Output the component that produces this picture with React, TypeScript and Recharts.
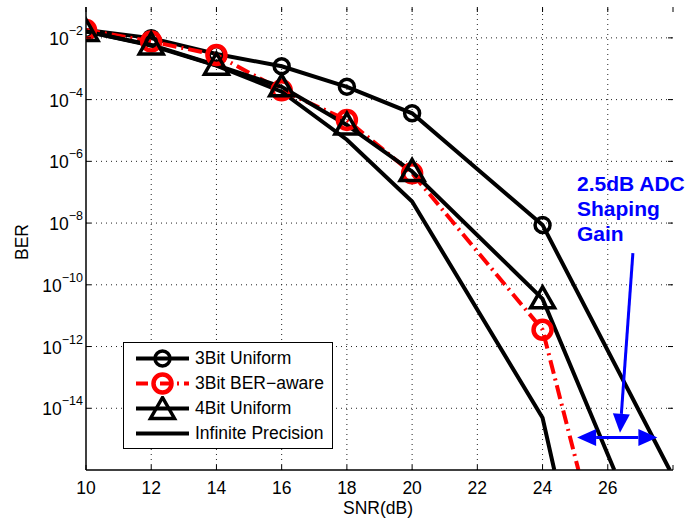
import { LineChart, Line, XAxis, YAxis, ReferenceLine } from "recharts";

const FONT = "'Liberation Sans', Arial, Helvetica, sans-serif";

// SNR points that carry markers
const snr = [10, 12, 14, 16, 18, 20, 24];

// BER (log scale)
const berUniform3 = [1.8e-2, 9.8e-3, 3.0e-3, 1.2e-3, 2.6e-4, 3.6e-5, 8.7e-9];
const berAware3 = [1.8e-2, 7.6e-3, 2.8e-3, 2.0e-4, 2.2e-5, 4.1e-7, 3.5e-12];
const berUniform4 = [1.6e-2, 5.9e-3, 1.3e-3, 2.6e-4, 1.5e-5, 4.7e-7, 3.5e-11];
const berInfinite = [1.6e-2, 5.6e-3, 1.26e-3, 1.8e-4, 5.0e-6, 5.0e-8, 4.9e-15];

// where each curve runs out through the bottom of the plot (BER 1e-16)
const floorBer = 1e-16;
const floorUniform3 = 27.9;
const floorAware3 = 25.1;
const floorUniform4 = 26.2;
const floorInfinite = 24.36;

const xTicks = [10, 12, 14, 16, 18, 20, 22, 24, 26, 28];
const yTicks = [1e-16, 1e-14, 1e-12, 1e-10, 1e-8, 1e-6, 1e-4, 1e-2];
const xGrid = [12, 14, 16, 18, 20, 22, 24, 26];
const yGrid = [1e-14, 1e-12, 1e-10, 1e-8, 1e-6, 1e-4, 1e-2];

const toSeries = (ber: number[], floorX: number) => [
  ...snr.map((x, i) => ({ x, y: ber[i] })),
  { x: floorX, y: floorBer, end: true },
];

const uniform3 = toSeries(berUniform3, floorUniform3);
const aware3 = toSeries(berAware3, floorAware3);
const uniform4 = toSeries(berUniform4, floorUniform4);
const infinite = toSeries(berInfinite, floorInfinite);

const circleDot = (color: string, r: number, sw: number) => (p: any) => {
  if (p.payload?.end) return <g key={`c-${p.index}`} />;
  return <circle key={`c-${p.index}`} cx={p.cx} cy={p.cy} r={r} fill="none" stroke={color} strokeWidth={sw} />;
};

const triPoints = (cx: number, cy: number) =>
  `${cx},${cy - 12} ${cx - 12},${cy + 9} ${cx + 12},${cy + 9}`;

const triangleDot = (p: any) => {
  if (p.payload?.end) return <g key={`t-${p.index}`} />;
  return (
    <polygon key={`t-${p.index}`} points={triPoints(p.cx, p.cy)} fill="none" stroke="#000" strokeWidth={3.5} strokeLinejoin="miter" />
  );
};

// plot box, used for the inward tick marks
const PLOT_TOP = 7;
const PLOT_BOTTOM = 470;
const PLOT_LEFT = 86;
const PLOT_RIGHT = 673;

const XTick = (props: any) => {
  const { x, payload } = props;
  return (
    <g>
      <line x1={x} y1={PLOT_BOTTOM} x2={x} y2={PLOT_BOTTOM - 5} stroke="#000" strokeWidth={1} />
      <line x1={x} y1={PLOT_TOP} x2={x} y2={PLOT_TOP + 5} stroke="#000" strokeWidth={1} />
      {payload.value !== 28 && (
        <text x={x} y={494} textAnchor="middle" fontSize={17.5} fontFamily={FONT} fill="#000">
          {payload.value}
        </text>
      )}
    </g>
  );
};

const YTick = (props: any) => {
  const { y, payload } = props;
  const exp = Math.round(Math.log10(payload.value));
  if (exp === -16) return null;
  return (
    <g>
      <line x1={PLOT_LEFT} y1={y} x2={PLOT_LEFT + 5} y2={y} stroke="#000" strokeWidth={1} />
      <line x1={PLOT_RIGHT - 5} y1={y} x2={PLOT_RIGHT} y2={y} stroke="#000" strokeWidth={1} />
      <text x={83} y={y + 7} textAnchor="end" fontFamily={FONT} fill="#000">
        <tspan fontSize={17.5}>10</tspan>
        <tspan fontSize={12.5} dy={-10}>{"\u2212" + Math.abs(exp)}</tspan>
      </text>
    </g>
  );
};

// blue arrow drawn from the segment end points
const arrow = (both: boolean) => (props: any) => {
  const { x1, y1, x2, y2 } = props;
  const dx = x2 - x1;
  const dy = y2 - y1;
  const len = Math.sqrt(dx * dx + dy * dy);
  const ux = dx / len;
  const uy = dy / len;
  const L = 19;
  const W = 8.5;
  const head = (tx: number, ty: number, sx: number, sy: number) => {
    const bx = tx - sx * L;
    const by = ty - sy * L;
    return `${tx},${ty} ${bx - sy * W},${by + sx * W} ${bx + sy * W},${by - sx * W}`;
  };
  const sx1 = both ? x1 + ux * L : x1;
  const sy1 = both ? y1 + uy * L : y1;
  return (
    <g>
      <line x1={sx1} y1={sy1} x2={x2 - ux * L} y2={y2 - uy * L} stroke="#0000ff" strokeWidth={3} />
      <polygon points={head(x2, y2, ux, uy)} fill="#0000ff" />
      {both && <polygon points={head(x1, y1, -ux, -uy)} fill="#0000ff" />}
    </g>
  );
};

const legendItems = [
  { name: "3Bit Uniform", color: "#000", dash: undefined, mark: "circle" },
  { name: "3Bit BER\u2212aware", color: "#ff0000", dash: "12 5 2 5", mark: "circle" },
  { name: "4Bit Uniform", color: "#000", dash: undefined, mark: "triangle" },
  { name: "Infinite Precision", color: "#000", dash: undefined, mark: "none" },
];

const gridStyle = { stroke: "#222", strokeWidth: 1, strokeDasharray: "1 4" };

export default function App() {
  return (
    <div style={{ position: "absolute", left: 0, top: 0, width: 690, height: 522, background: "#fff", fontFamily: FONT }}>
      <LineChart width={690} height={522} margin={{ top: 7, right: 17, bottom: 0, left: 0 }}>
        <XAxis
          xAxisId="b"
          type="number"
          dataKey="x"
          domain={[10, 28]}
          ticks={xTicks}
          allowDataOverflow
          height={52}
          tick={<XTick />}
          tickLine={false}
          axisLine={{ stroke: "#000", strokeWidth: 1.5 }}
          label={{
            content: () => (
              <text x={378} y={514} textAnchor="middle" fontSize={17.5} fontFamily={FONT} fill="#000">
                SNR(dB)
              </text>
            ),
          }}
        />
        <XAxis
          xAxisId="t"
          orientation="top"
          type="number"
          domain={[10, 28]}
          ticks={xTicks}
          height={0}
          tick={false}
          tickLine={false}
          axisLine={{ stroke: "#000", strokeWidth: 1.5 }}
        />
        <YAxis
          yAxisId="l"
          type="number"
          scale="log"
          domain={[1e-16, 1e-1]}
          ticks={yTicks}
          allowDataOverflow
          width={86}
          tick={<YTick />}
          tickLine={false}
          axisLine={{ stroke: "#000", strokeWidth: 1.5 }}
          label={{
            content: () => (
              <text x={28} y={242} textAnchor="middle" fontSize={17.5} fontFamily={FONT} fill="#000" transform="rotate(-90, 28, 242)">
                BER
              </text>
            ),
          }}
        />
        <YAxis
          yAxisId="r"
          orientation="right"
          type="number"
          scale="log"
          domain={[1e-16, 1e-1]}
          ticks={yTicks}
          width={0}
          tick={false}
          tickLine={false}
          axisLine={{ stroke: "#000", strokeWidth: 1.5 }}
        />

        {xGrid.map((v) => (
          <ReferenceLine key={`gx-${v}`} xAxisId="b" yAxisId="l" x={v} {...gridStyle} />
        ))}
        {yGrid.map((v) => (
          <ReferenceLine key={`gy-${v}`} xAxisId="b" yAxisId="l" y={v} {...gridStyle} />
        ))}

        <Line xAxisId="b" yAxisId="l" data={uniform3} dataKey="y" name="3Bit Uniform" type="linear" stroke="#000" strokeWidth={4} dot={circleDot("#000", 7.5, 3.5)} activeDot={false} isAnimationActive={false} />
        <Line xAxisId="b" yAxisId="l" data={aware3} dataKey="y" name="3Bit BER-aware" type="linear" stroke="#ff0000" strokeWidth={4} strokeDasharray="14 5 2 5" dot={circleDot("#ff0000", 9, 4.5)} activeDot={false} isAnimationActive={false} />
        <Line xAxisId="b" yAxisId="l" data={uniform4} dataKey="y" name="4Bit Uniform" type="linear" stroke="#000" strokeWidth={4} dot={triangleDot} activeDot={false} isAnimationActive={false} />
        <Line xAxisId="b" yAxisId="l" data={infinite} dataKey="y" name="Infinite Precision" type="linear" stroke="#000" strokeWidth={4} dot={false} activeDot={false} isAnimationActive={false} />

        <ReferenceLine xAxisId="b" yAxisId="l" segment={[{ x: 26.77, y: 1.07e-9 }, { x: 26.375, y: 1.6e-15 }]} shape={arrow(false)} ifOverflow="visible" />
        <ReferenceLine xAxisId="b" yAxisId="l" segment={[{ x: 25.06, y: 1.12e-15 }, { x: 27.52, y: 1.12e-15 }]} shape={arrow(true)} ifOverflow="visible" />
      </LineChart>

      <div style={{ position: "absolute", left: 577, top: 171, color: "#0000ff", fontWeight: 700, fontSize: 21, lineHeight: "25px", whiteSpace: "nowrap" }}>
        2.5dB ADC
        <br />
        Shaping
        <br />
        Gain
      </div>

      <div style={{ position: "absolute", left: 123, top: 342, width: 208, height: 105, border: "1px solid #000", background: "#fff" }}>
        {legendItems.map((item, i) => (
          <div key={i} style={{ position: "absolute", left: 0, top: 3 + i * 25, height: 25, display: "flex", alignItems: "center" }}>
            <svg width={61} height={25} style={{ marginLeft: 10 }}>
              <line x1={2} y1={12.5} x2={55} y2={12.5} stroke={item.color} strokeWidth={4} strokeDasharray={item.dash} />
              {item.mark === "circle" && (
                <circle cx={28.5} cy={12.5} r={item.color === "#000" ? 7.5 : 9} fill="none" stroke={item.color} strokeWidth={item.color === "#000" ? 3.5 : 4.5} />
              )}
              {item.mark === "triangle" && <polygon points={triPoints(28.5, 13.5)} fill="none" stroke="#000" strokeWidth={3.5} />}
            </svg>
            <span style={{ fontSize: 17.5, color: "#000", whiteSpace: "nowrap" }}>{item.name}</span>
          </div>
        ))}
      </div>
    </div>
  );
}
